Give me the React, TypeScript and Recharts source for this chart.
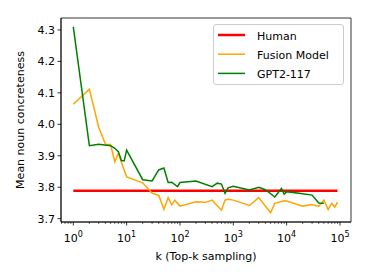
import { LineChart, Line, XAxis, YAxis, Legend, ReferenceArea } from 'recharts'

// k values (Top-k) and mean noun concreteness per model
const humanK = [1, 90000]
const humanValues = [3.789, 3.789]

const fusionK = [
  1, 2, 3, 4, 5, 6, 7, 8, 10, 20, 30, 40, 50, 60, 70, 80, 100, 200, 300, 400, 600, 700, 800, 1000,
  2000, 3000, 5000, 6000, 9000, 10000, 20000, 30000, 40000, 50000, 60000, 70000, 80000, 90000,
]
const fusionValues = [
  4.064, 4.112, 3.99, 3.937, 3.936, 3.881, 3.908, 3.879, 3.833, 3.814, 3.781, 3.774, 3.73, 3.767,
  3.744, 3.759, 3.74, 3.754, 3.752, 3.759, 3.727, 3.759, 3.762, 3.759, 3.742, 3.767, 3.719, 3.749,
  3.757, 3.756, 3.74, 3.745, 3.739, 3.759, 3.729, 3.749, 3.737, 3.753,
]

const gptK = [
  1, 2, 3, 5, 6, 7, 8, 9, 10, 20, 30, 40, 50, 60, 70, 90, 100, 200, 400, 500, 600, 700, 800, 1000,
  2000, 3000, 4000, 6000, 8000, 9000, 10000, 20000, 30000, 40000, 50000,
]
const gptValues = [
  4.31, 3.932, 3.937, 3.932, 3.924, 3.913, 3.884, 3.884, 3.918, 3.824, 3.82, 3.855, 3.861, 3.815,
  3.816, 3.802, 3.815, 3.82, 3.802, 3.813, 3.81, 3.781, 3.798, 3.803, 3.791, 3.8, 3.792, 3.769,
  3.796, 3.778, 3.786, 3.779, 3.775, 3.75, 3.749,
]

const xMajorTicks = [1, 10, 100, 1000, 10000, 100000]
const yTicks = [3.7, 3.8, 3.9, 4.0, 4.1, 4.2, 4.3]

const series = [
  { name: 'Human', color: '#ff0000', width: 2.5, k: humanK, values: humanValues },
  { name: 'Fusion Model', color: '#ffa500', width: 1.5, k: fusionK, values: fusionValues },
  { name: 'GPT2-117', color: '#008000', width: 1.5, k: gptK, values: gptValues },
]

const X_DOMAIN: [number, number] = [0.588, 161000]
const Y_DOMAIN: [number, number] = [3.6895, 4.338]
const FONT = 'DejaVu Sans, sans-serif'

const toRows = (k: number[], values: number[]) => k.map((kv, i) => ({ k: kv, v: values[i] }))

// major ticks plus the minor 2..9 ticks inside the domain
const allXTicks = (() => {
  const out: number[] = []
  const decades = [0.1, ...xMajorTicks]
  decades.forEach(d => {
    for (let m = 1; m < 10; m++) {
      const t = d * m
      if (t >= X_DOMAIN[0] && t <= X_DOMAIN[1]) out.push(t)
    }
  })
  return out
})()

const XTick = (props: any) => {
  const { x, y, payload } = props
  const value = payload.value
  const exp = Math.round(Math.log10(value))
  const major = xMajorTicks.includes(value)
  return (
    <g>
      <line x1={x} x2={x} y1={y} y2={y + (major ? 3.5 : 2)} stroke="#000" strokeWidth={major ? 0.8 : 0.6} />
      {major && (
        <text x={x} y={y + 19.7} textAnchor="middle" fill="#000" fontSize={11} fontFamily={FONT}>
          10
          <tspan dy={-4.5} fontSize={8}>
            {exp}
          </tspan>
        </text>
      )}
    </g>
  )
}

const LegendBox = () => (
  <svg width={132} height={62}>
    <rect x={0.5} y={0.5} width={130} height={60} rx={2.5} fill="#fff" fillOpacity={0.8} stroke="#cccccc" />
    {series.map((s, i) => (
      <g key={s.name}>
        <line x1={5} x2={32} y1={11 + i * 19.2} y2={11 + i * 19.2} stroke={s.color} strokeWidth={s.width} />
        <text x={44} y={15.7 + i * 19.2} fontSize={11} fontFamily={FONT} fill="#000">
          {s.name}
        </text>
      </g>
    ))}
  </svg>
)

export default function App() {
  return (
    <div style={{ position: 'absolute', left: 0, top: 0, background: '#fff' }}>
      <LineChart width={369} height={277} margin={{ top: 18, right: 18, bottom: 0, left: 0 }}>
        <XAxis
          dataKey="k"
          type="number"
          scale="log"
          domain={X_DOMAIN}
          allowDataOverflow
          ticks={allXTicks}
          interval={0}
          tick={<XTick />}
          tickLine={false}
          tickSize={0}
          tickMargin={0}
          height={55}
          axisLine={{ stroke: '#000', strokeWidth: 0.8 }}
          label={{
            content: (p: any) => (
              <text
                x={p.viewBox.x + p.viewBox.width / 2}
                y={260}
                textAnchor="middle"
                fontSize={11}
                fontFamily={FONT}
                fill="#000"
              >
                k (Top-k sampling)
              </text>
            ),
          }}
        />
        <YAxis
          type="number"
          domain={Y_DOMAIN}
          allowDataOverflow
          ticks={yTicks}
          interval={0}
          width={61}
          tickSize={3.5}
          tickMargin={2.5}
          tickFormatter={v => v.toFixed(1)}
          tick={{ fill: '#000', fontSize: 11, fontFamily: FONT }}
          tickLine={{ stroke: '#000', strokeWidth: 0.8 }}
          axisLine={{ stroke: '#000', strokeWidth: 0.8 }}
          label={{
            content: () => (
              <text
                x={20}
                y={120}
                transform="rotate(-90, 20, 120)"
                textAnchor="middle"
                dominantBaseline="central"
                fontSize={11}
                fontFamily={FONT}
                fill="#000"
              >
                Mean noun concreteness
              </text>
            ),
          }}
        />
        <ReferenceArea
          x1={X_DOMAIN[0]}
          x2={X_DOMAIN[1]}
          y1={Y_DOMAIN[0]}
          y2={Y_DOMAIN[1]}
          fill="none"
          stroke="#000"
          strokeWidth={0.8}
          ifOverflow="visible"
        />
        {series.map(s => (
          <Line
            key={s.name}
            data={toRows(s.k, s.values)}
            dataKey="v"
            name={s.name}
            type="linear"
            stroke={s.color}
            strokeWidth={s.width}
            dot={false}
            activeDot={false}
            isAnimationActive={false}
          />
        ))}
        <Legend
          layout="vertical"
          align="center"
          verticalAlign="middle"
          content={<LegendBox />}
          wrapperStyle={{ left: 213, top: 24, width: 132, height: 62 }}
        />
      </LineChart>
    </div>
  )
}
